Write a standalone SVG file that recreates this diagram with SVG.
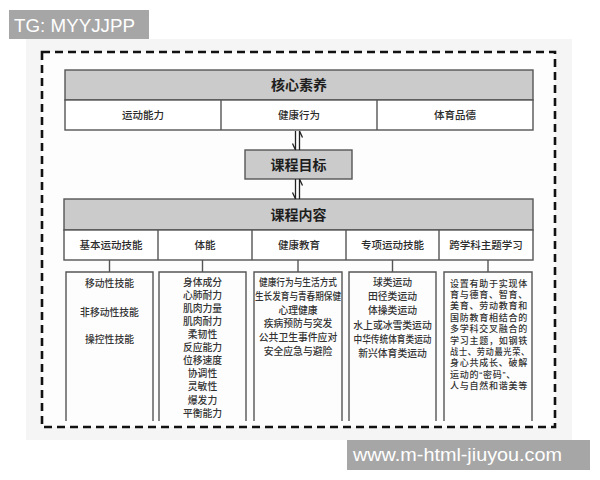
<svg xmlns="http://www.w3.org/2000/svg" width="600" height="480" viewBox="0 0 600 480">
<style>
.cn{font-family:"Noto Sans CJK SC","Noto Sans",sans-serif;fill:#2a2a2a;text-anchor:middle}
.h{font-size:14px;font-weight:bold;fill:#1e1e1e}
.l{font-size:10.5px;font-weight:500}
.b{font-size:9.8px;fill:#333;font-weight:500}
.bl{font-family:"Liberation Sans","Noto Sans CJK SC",sans-serif;font-size:9px;letter-spacing:0.75px;fill:#333;font-weight:500;text-anchor:start}
.box{fill:#fff;stroke:#555;stroke-width:1.4}
.hd{fill:#cbcbcb;stroke:#555;stroke-width:1.4}
.ln{stroke:#555;stroke-width:1.4;fill:none}
.ar{stroke:#222;stroke-width:1.3;fill:none}
.wm{font-family:"Liberation Sans",Arial,sans-serif;fill:#fff}
</style>
<rect x="0" y="0" width="600" height="480" fill="#fff"/>
<rect x="26" y="39" width="546" height="401" fill="#f5f5f5"/>
<rect x="42" y="52" width="513" height="375" fill="#fdfdfd" stroke="#111" stroke-width="2.6" stroke-dasharray="8 5"/>

<g id="watermark-top">
<rect x="9" y="10" width="140" height="29" fill="#a6a6a6"/>
<text class="wm" x="14" y="32" font-size="19" textLength="121" lengthAdjust="spacingAndGlyphs">TG: MYYJJPP</text>
</g>

<g id="core">
<rect class="hd" x="65" y="70" width="468" height="30"/>
<rect class="box" x="65" y="100" width="468" height="30"/>
<line class="ln" x1="221" y1="100" x2="221" y2="130"/>
<line class="ln" x1="377" y1="100" x2="377" y2="130"/>
<text class="cn h" x="299" y="90">核心素养</text>
<text class="cn l" x="143" y="119">运动能力</text>
<text class="cn l" x="299" y="119">健康行为</text>
<text class="cn l" x="455" y="119">体育品德</text>
</g>

<g id="goal">
<rect class="hd" x="245" y="150" width="107" height="29"/>
<text class="cn h" x="298.5" y="170">课程目标</text>
</g>

<g id="content">
<rect class="hd" x="64" y="199" width="469" height="31"/>
<rect class="box" x="64" y="230" width="469" height="30"/>
<line class="ln" x1="158" y1="230" x2="158" y2="260"/>
<line class="ln" x1="252" y1="230" x2="252" y2="260"/>
<line class="ln" x1="346" y1="230" x2="346" y2="260"/>
<line class="ln" x1="439" y1="230" x2="439" y2="260"/>
<text class="cn h" x="298.5" y="220">课程内容</text>
<text class="cn l" x="111" y="249">基本运动技能</text>
<text class="cn l" x="205" y="249">体能</text>
<text class="cn l" x="299" y="249">健康教育</text>
<text class="cn l" x="392.5" y="249">专项运动技能</text>
<text class="cn l" x="486" y="249">跨学科主题学习</text>
</g>

<g id="col-basic">
<path class="ln" d="M66 421V272H153V421"/>
<text class="cn b" x="109.5" y="287">移动性技能</text>
<text class="cn b" x="109.5" y="316">非移动性技能</text>
<text class="cn b" x="109.5" y="343">操控性技能</text>
</g>

<g id="col-fitness">
<path class="ln" d="M159 421V272H246V421"/>
<text class="cn b" x="202.5" y="285.6">身体成分</text>
<text class="cn b" x="202.5" y="298.7">心肺耐力</text>
<text class="cn b" x="202.5" y="311.8">肌肉力量</text>
<text class="cn b" x="202.5" y="324.9">肌肉耐力</text>
<text class="cn b" x="202.5" y="338">柔韧性</text>
<text class="cn b" x="202.5" y="351.1">反应能力</text>
<text class="cn b" x="202.5" y="364.2">位移速度</text>
<text class="cn b" x="202.5" y="377.3">协调性</text>
<text class="cn b" x="202.5" y="390.4">灵敏性</text>
<text class="cn b" x="202.5" y="403.5">爆发力</text>
<text class="cn b" x="202.5" y="416.6">平衡能力</text>
</g>

<g id="col-health">
<path class="ln" d="M254 421V272H342V421"/>
<text class="cn b" x="298" y="286" textLength="78" lengthAdjust="spacingAndGlyphs">健康行为与生活方式</text>
<text class="cn b" x="298" y="299.8" textLength="86" lengthAdjust="spacingAndGlyphs">生长发育与青春期保健</text>
<text class="cn b" x="298" y="313.6">心理健康</text>
<text class="cn b" x="298" y="327.4">疾病预防与突发</text>
<text class="cn b" x="298" y="341.2">公共卫生事件应对</text>
<text class="cn b" x="298" y="355">安全应急与避险</text>
</g>

<g id="col-special">
<path class="ln" d="M349 421V272H436V421"/>
<text class="cn b" x="392.5" y="286">球类运动</text>
<text class="cn b" x="392.5" y="300.2">田径类运动</text>
<text class="cn b" x="392.5" y="314.4">体操类运动</text>
<text class="cn b" x="392.5" y="328.6">水上或冰雪类运动</text>
<text class="cn b" x="392.5" y="342.8" textLength="78" lengthAdjust="spacingAndGlyphs">中华传统体育类运动</text>
<text class="cn b" x="392.5" y="357">新兴体育类运动</text>
</g>

<g id="col-cross">
<path class="ln" d="M444 421V272H532V421"/>
<text class="bl" x="450" y="286.5">设置有助于实现体</text>
<text class="bl" x="450" y="297.9">育与德育、智育、</text>
<text class="bl" x="450" y="309.3">美育、劳动教育和</text>
<text class="bl" x="450" y="320.7">国防教育相结合的</text>
<text class="bl" x="450" y="332.1">多学科交叉融合的</text>
<text class="bl" x="450" y="343.5">学习主题，如钢铁</text>
<text class="bl" x="450" y="354.9" textLength="80" lengthAdjust="spacingAndGlyphs">战士、劳动最光荣、</text>
<text class="bl" x="450" y="366.3">身心共成长、破解</text>
<text class="bl" x="450" y="377.7" letter-spacing="1.6">运动的“密码”、</text>
<text class="bl" x="450" y="389.1">人与自然和谐美等</text>
</g>

<g id="connectors">
<path class="ar" d="M295.5 131V150M295.5 150L292.5 143.5"/>
<path class="ar" d="M299.5 131V150M299.5 131L302.5 137.5"/>
<path class="ar" d="M295.5 179V199M295.5 199L292.5 192.5"/>
<path class="ar" d="M299.5 179V199M299.5 179L302.5 185.5"/>
<line class="ln" x1="109.5" y1="260" x2="109.5" y2="272"/>
<line class="ln" x1="202.5" y1="260" x2="202.5" y2="272"/>
<line class="ln" x1="298" y1="260" x2="298" y2="272"/>
<line class="ln" x1="392.5" y1="260" x2="392.5" y2="272"/>
<line class="ln" x1="488" y1="260" x2="488" y2="272"/>
</g>

<g id="watermark-bottom">
<rect x="347" y="440" width="243" height="30" fill="#a6a6a6"/>
<text class="wm" x="353" y="461" font-size="19" textLength="209" lengthAdjust="spacingAndGlyphs">www.m-html-jiuyou.com</text>
</g>
</svg>
